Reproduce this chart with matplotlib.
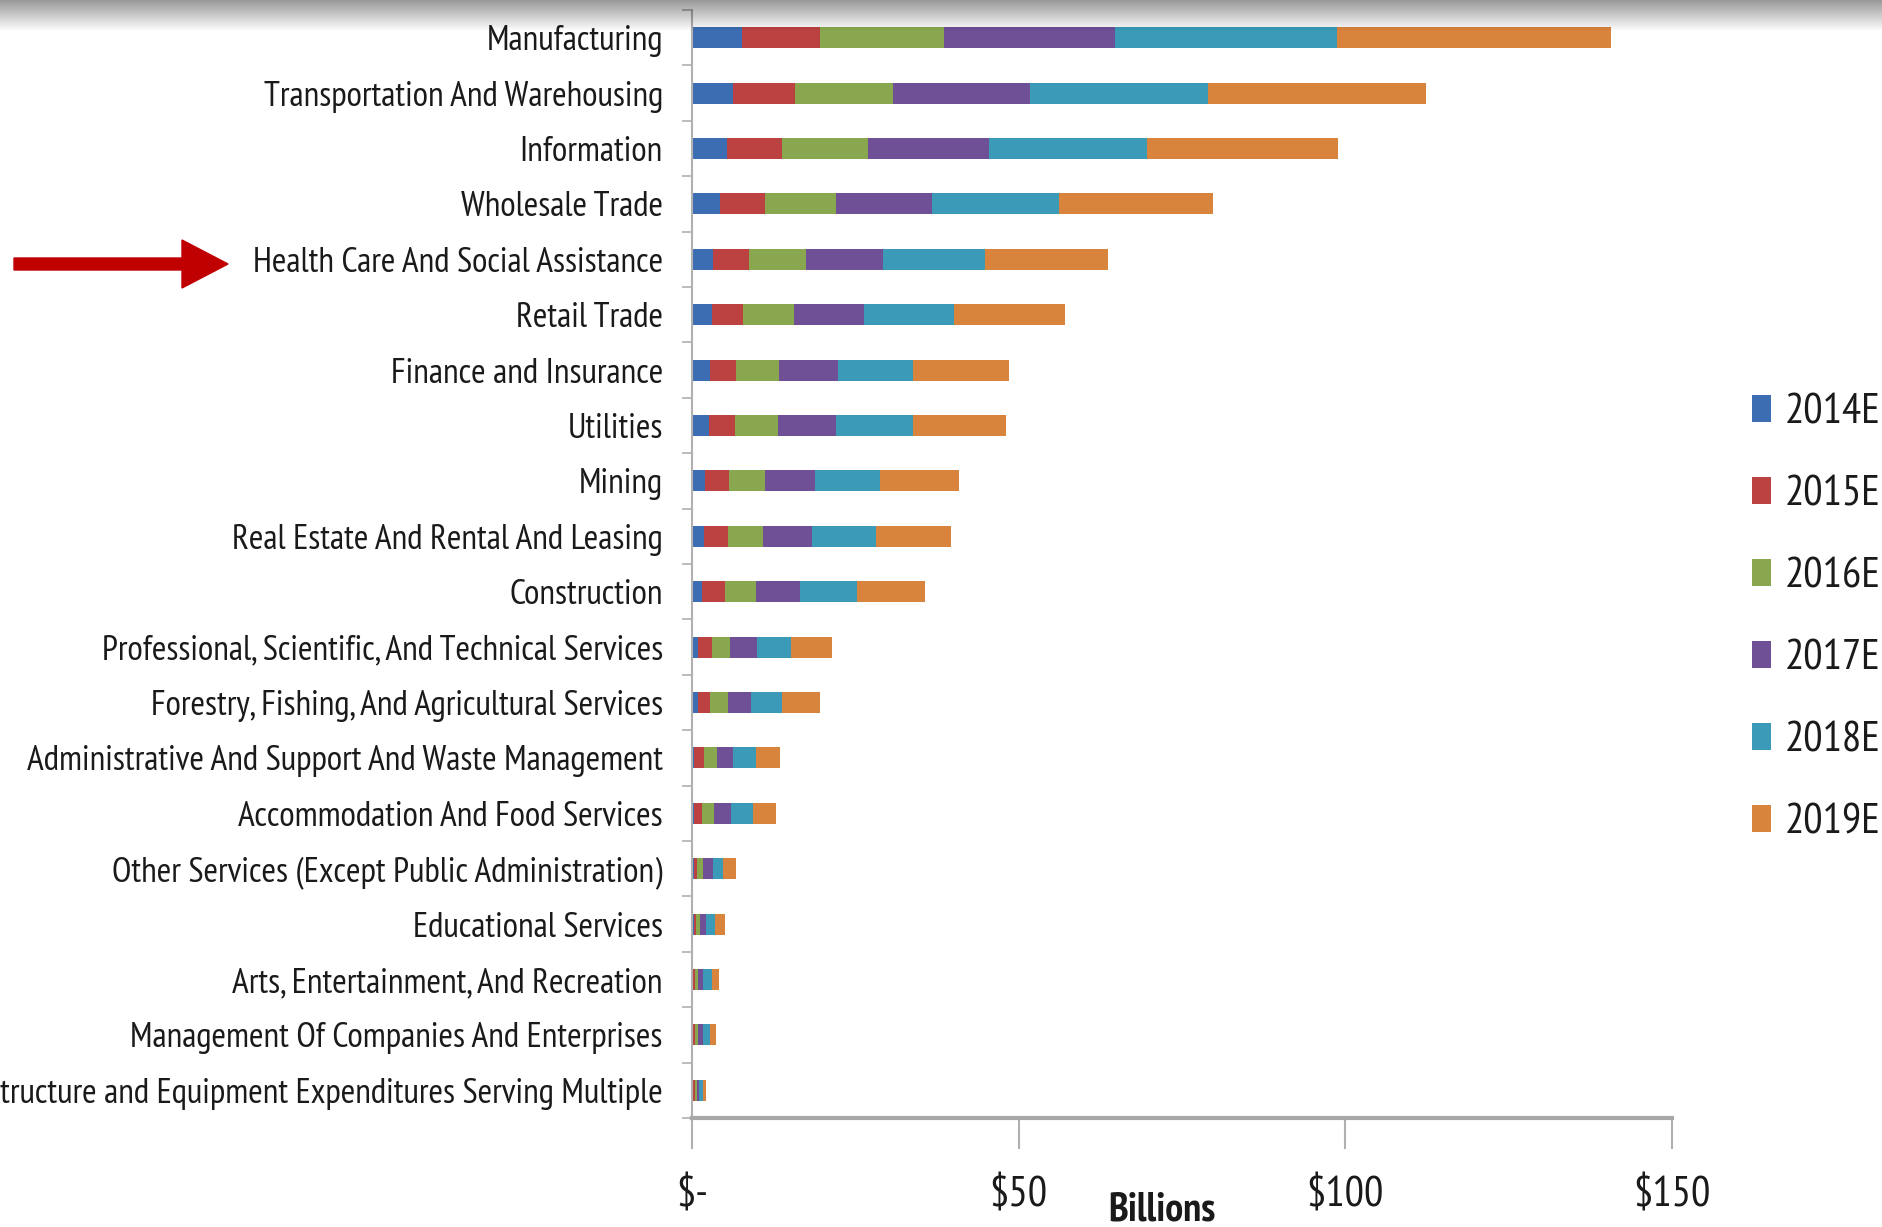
import matplotlib.pyplot as plt
import numpy as np
from matplotlib.patches import FancyArrow

# Industries (top to bottom)
industries = [
    "Manufacturing",
    "Transportation And Warehousing",
    "Information",
    "Wholesale Trade",
    "Health Care And Social Assistance",
    "Retail Trade",
    "Finance and Insurance",
    "Utilities",
    "Mining",
    "Real Estate And Rental And Leasing",
    "Construction",
    "Professional, Scientific, And Technical Services",
    "Forestry, Fishing, And Agricultural Services",
    "Administrative And Support And Waste Management",
    "Accommodation And Food Services",
    "Other Services (Except Public Administration)",
    "Educational Services",
    "Arts, Entertainment, And Recreation",
    "Management Of Companies And Enterprises",
    "Structure and Equipment Expenditures Serving Multiple",
]

years = ["2014E", "2015E", "2016E", "2017E", "2018E", "2019E"]

# Billions of dollars per year
v2014 = [7.7, 6.2, 5.4, 4.3, 3.2, 3.0, 2.8, 2.6, 2.0, 1.9, 1.6, 0.9, 0.9, 0.3, 0.3, 0.3, 0.3, 0.2, 0.2, 0.2]
v2015 = [11.9, 9.5, 8.3, 6.8, 5.5, 4.8, 4.0, 4.0, 3.7, 3.6, 3.4, 2.2, 1.9, 1.5, 1.3, 0.5, 0.3, 0.3, 0.3, 0.2]
v2016 = [19.0, 15.1, 13.3, 10.9, 8.8, 7.8, 6.5, 6.6, 5.4, 5.4, 4.8, 2.7, 2.7, 2.0, 1.8, 0.9, 0.6, 0.4, 0.4, 0.3]
v2017 = [26.2, 21.0, 18.5, 14.8, 11.8, 10.7, 9.0, 8.9, 7.7, 7.4, 6.7, 4.1, 3.6, 2.4, 2.6, 1.5, 1.0, 0.8, 0.8, 0.4]
v2018 = [34.0, 27.2, 24.1, 19.3, 15.5, 13.8, 11.6, 11.7, 9.9, 9.8, 8.7, 5.3, 4.7, 3.6, 3.3, 1.6, 1.3, 1.4, 1.0, 0.6]
v2019 = [41.9, 33.4, 29.3, 23.7, 18.9, 17.0, 14.6, 14.2, 12.1, 11.6, 10.5, 6.2, 5.8, 3.7, 3.6, 1.9, 1.5, 1.1, 1.0, 0.5]

series = [v2014, v2015, v2016, v2017, v2018, v2019]
colors = ["#3C6DB3", "#BB4240", "#88A74E", "#6F4F96", "#3A9AB8", "#D9843D"]

plt.rcParams["font.family"] = ["PT Sans Narrow", "Roboto Condensed", "DejaVu Sans"]

fig = plt.figure(figsize=(18.82, 12.27), dpi=100)
ax = fig.add_axes([0.3677, 0.0888, 0.5207, 0.903])

y = np.arange(len(industries))
left = np.zeros(len(industries))
for vals, col, yr in zip(series, colors, years):
    ax.barh(y, vals, left=left, height=0.38, color=col, label=yr)
    left += np.array(vals)

ax.set_xlim(0, 150)
ax.set_ylim(len(industries) - 0.5, -0.5)
ax.set_yticks(y)
ax.set_yticklabels(industries, fontsize=25.5, color="#1a1a1a")
ax.set_yticks(np.arange(len(industries) + 1) - 0.5, minor=True)
ax.tick_params(axis="y", which="major", length=0, pad=21)
ax.tick_params(axis="y", which="minor", length=7, width=1.2, color="#b0b0b0")

ax.set_xticks([0, 50, 100, 150])
ax.set_xticklabels(["$-", "$50", "$100", "$150"], fontsize=31, color="#1a1a1a")
ax.tick_params(axis="x", length=22, width=1.5, color="#b0b0b0", pad=20)

for s in ["top", "right"]:
    ax.spines[s].set_visible(False)
ax.spines["left"].set_color("#b0b0b0")
ax.spines["left"].set_linewidth(1.5)
ax.spines["bottom"].set_color("#a8a8a8")
ax.spines["bottom"].set_linewidth(3)

fig.text(1162 / 1882, 1 - 1210 / 1227, "Billions", fontsize=29, fontweight="bold",
         ha="center", va="center", color="#1a1a1a")

# legend on the right
leg = fig.legend(loc="center left", bbox_to_anchor=(1752 / 1882, 1 - 618 / 1227),
                 frameon=False, fontsize=31, handlelength=0.45, handleheight=0.6,
                 handletextpad=0.3, labelspacing=1.0, borderpad=0, borderaxespad=0)
for t in leg.get_texts():
    t.set_color("#1a1a1a")

# red arrow pointing at Health Care
fig.patches.append(FancyArrow(14 / 1882, 1 - 264 / 1227, 214 / 1882, 0,
                              width=12 / 1227, head_width=48 / 1227,
                              head_length=46 / 1882, length_includes_head=True,
                              color="#C00000", transform=fig.transFigure))

# gray shadow along the top edge, drawn over everything
sh = fig.add_axes([0, 1 - 32 / 1227, 1, 32 / 1227], zorder=10)
shade = np.zeros((32, 2, 4))
shade[:, :, 3] = np.linspace(0.4, 0.0, 32)[:, None]
sh.imshow(shade, aspect="auto", extent=[0, 1, 0, 1])
sh.axis("off")

fig.savefig("out.png", dpi=100)
